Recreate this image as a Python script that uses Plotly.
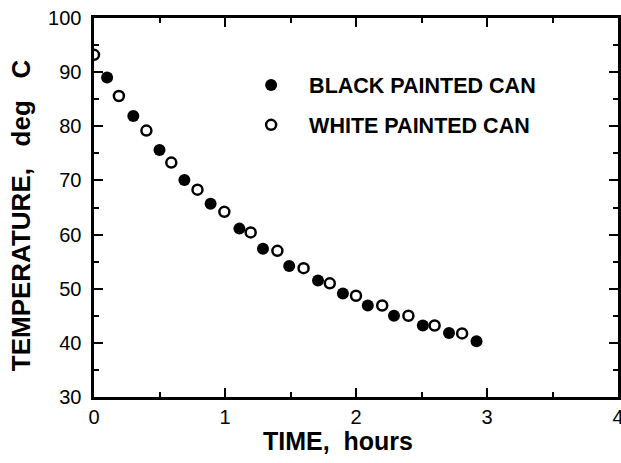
import plotly.graph_objects as go

# Data
black_time = [0.10, 0.30, 0.50, 0.69, 0.89, 1.11, 1.29, 1.49, 1.71, 1.90, 2.09, 2.29, 2.51, 2.71, 2.92]
black_temp = [89.0, 81.9, 75.6, 70.1, 65.7, 61.1, 57.4, 54.2, 51.5, 49.1, 46.9, 45.0, 43.2, 41.8, 40.3]
white_time = [0.0, 0.19, 0.40, 0.59, 0.79, 0.995, 1.196, 1.40, 1.60, 1.80, 2.0, 2.20, 2.40, 2.60, 2.81]
white_temp = [93.2, 85.6, 79.2, 73.3, 68.3, 64.2, 60.4, 57.0, 53.8, 51.0, 48.7, 46.9, 45.0, 43.2, 41.75]
series_names = ["BLACK PAINTED CAN", "WHITE PAINTED CAN"]
x_ticks = [0, 1, 2, 3, 4]
y_ticks = [30, 40, 50, 60, 70, 80, 90, 100]
x_title = "TIME,\u00a0\u00a0hours"
y_title = "TEMPERATURE,\u00a0\u00a0\u00a0deg\u00a0\u00a0\u00a0C"

FONT = "Liberation Sans, Arial, Helvetica, sans-serif"
NB = "\u00a0"

fig = go.Figure()
fig.add_trace(go.Scatter(
    x=black_time, y=black_temp, mode="markers", name=series_names[0],
    marker=dict(symbol="circle", size=12, color="black", line=dict(width=0)),
    legend="legend",
))
fig.add_trace(go.Scatter(
    x=white_time, y=white_temp, mode="markers", name=series_names[1],
    marker=dict(symbol="circle-open", size=10, color="black", line=dict(width=2.5)),
    legend="legend2",
))

major = dict(
    showline=True, linecolor="#000000", linewidth=3, mirror="ticks",
    ticks="inside", ticklen=9, tickwidth=2, tickcolor="#000000",
    showgrid=False, zeroline=False, automargin=False,
    ticklabeloverflow="allow",
    tickfont=dict(family=FONT, size=20, color="black"),
)

legend_font = dict(family=FONT, size=21.5, color="black", weight="bold")
fig.update_layout(
    width=621, height=463,
    margin=dict(l=94, r=3, t=18, b=66),
    paper_bgcolor="white", plot_bgcolor="white",
    showlegend=True,
    xaxis=dict(range=[0, 4], tickmode="array", tickvals=x_ticks,
               ticktext=[str(v) for v in x_ticks],
               minor=dict(dtick=0.5, ticks="inside", ticklen=5, tickwidth=2, tickcolor="#000000"),
               **major),
    yaxis=dict(range=[30, 100], tickmode="array", tickvals=y_ticks,
               ticktext=[f"{v}{NB}" for v in y_ticks],
               minor=dict(dtick=5, ticks="inside", ticklen=5, tickwidth=2, tickcolor="#000000"),
               **major),
    legend=dict(x=0.2655, y=0.823, xanchor="left", yanchor="middle", font=legend_font,
                bgcolor="rgba(0,0,0,0)", itemwidth=66, itemsizing="trace"),
    legend2=dict(x=0.2655, y=0.718, xanchor="left", yanchor="middle", font=legend_font,
                 bgcolor="rgba(0,0,0,0)", itemwidth=66, itemsizing="trace"),
    annotations=[
        dict(text=x_title, xref="paper", yref="paper", x=0.465, y=-0.115,
             xanchor="center", yanchor="middle", showarrow=False,
             font=dict(family=FONT, size=25, color="black", weight="bold")),
        dict(text=y_title, xref="paper", yref="paper", x=-0.139, y=0.48,
             xanchor="center", yanchor="middle", showarrow=False, textangle=-90,
             font=dict(family=FONT, size=26, color="black", weight="bold")),
    ],
)

post = "document.body.style.margin='0';"

fig.write_html("out.html", post_script=post, config={"displayModeBar": False})
